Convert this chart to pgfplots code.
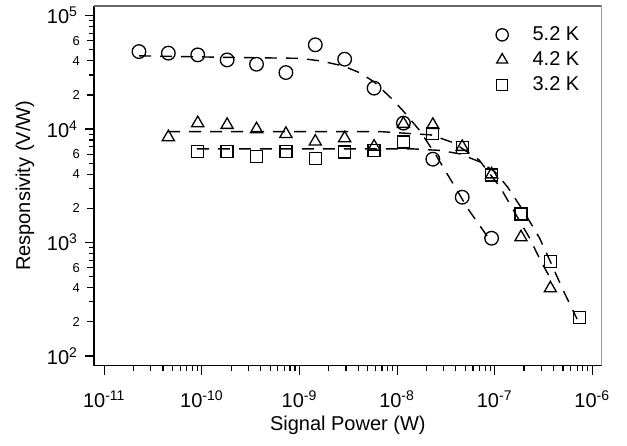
\documentclass[border=0pt]{standalone}
\usepackage{fontspec}
\setmainfont{Liberation Sans}
\usepackage{pgfplots}
\pgfplotsset{compat=1.18}

\begin{document}
\begin{tikzpicture}
\useasboundingbox (0,0) rectangle (313.5pt,222.5pt);
\begin{axis}[
  at={(47pt,39.65pt)}, anchor=south west,
  scale only axis, width=253.85pt, height=179.85pt,
  xmode=log, ymode=log,
  xmin=7.85e-12, xmax=1.247e-6,
  ymin=82.2, ymax=121600,
  axis x line*=bottom, axis y line*=left,
  axis line style={line width=0.7pt},
  tick align=outside,
  major tick length=4.5pt, minor tick length=2.6pt,
  tick style={black, line width=0.6pt},
  font=\fontsize{10}{12}\selectfont,
  xtick={1e-11,1e-10,1e-9,1e-8,1e-7,1e-6},
  xticklabels={10\textsuperscript{-11},10\textsuperscript{-10},10\textsuperscript{-9},10\textsuperscript{-8},10\textsuperscript{-7},10\textsuperscript{-6}},
  xticklabel style={yshift=-4.5pt},
  minor xtick={2e-11,3e-11,4e-11,5e-11,6e-11,7e-11,8e-11,9e-11,
    2e-10,3e-10,4e-10,5e-10,6e-10,7e-10,8e-10,9e-10,
    2e-9,3e-9,4e-9,5e-9,6e-9,7e-9,8e-9,9e-9,
    2e-8,3e-8,4e-8,5e-8,6e-8,7e-8,8e-8,9e-8,
    2e-7,3e-7,4e-7,5e-7,6e-7,7e-7,8e-7,9e-7},
  ytick={1e2,1e3,1e4,1e5},
  yticklabels={10\textsuperscript{2},10\textsuperscript{3},10\textsuperscript{4},10\textsuperscript{5}},
  minor ytick={300,500,700,800,900,3000,5000,7000,8000,9000,30000,50000,70000,80000,90000},
  extra y ticks={200,400,600,2000,4000,6000,20000,40000,60000},
  extra y tick labels={2,4,6,2,4,6,2,4,6},
  extra y tick style={major tick length=3.6pt, tick label style={font=\fontsize{6.5}{7}\selectfont}},
  xlabel={Signal Power (W)},
  ylabel={Responsivity (V/W)},
  xlabel style={at={(axis description cs:0.5,-0.1788)}, anchor=base},
  ylabel style={at={(axis description cs:-0.1359,0.5)}, anchor=center},
  legend style={draw=none, fill=none, at={(axis description cs:1,1)}, anchor=north east,
    xshift=-6pt, yshift=-6pt, font=\fontsize{10}{11}\selectfont, row sep=0pt},
  legend cell align=left,
  legend image code/.code={
    \path (-4pt,0pt) (13pt,0pt);
    \draw[#1, every mark/.append style={scale=0.9}] plot coordinates {(0pt,0pt)};
  },
  mark options={solid, line width=0.65pt},
]

% fitted curves
\addplot[forget plot, black, line width=0.7pt, dash pattern=on 6pt off 4.5pt] coordinates {
  (2.27e-11,44220) (1.766e-10,42890) (1.012e-9,42030) (1.622e-9,39950)
  (2.791e-9,36080) (4.168e-9,31310) (5.80e-9,26080) (9.08e-9,18090)
  (1.177e-8,14180) (1.717e-8,9640) (2.563e-8,5688) (3.652e-8,3422)
  (5.33e-8,1978) (8.34e-8,1144)
};
\addplot[forget plot, black, line width=0.7pt, dash pattern=on 6pt off 4.5pt] coordinates {
  (4.52e-11,9506) (6.68e-9,9506) (2.225e-8,8890) (3.828e-8,7556)
  (6.91e-8,5350) (1.133e-7,3093) (1.614e-7,1824) (2.273e-7,1098)
  (2.981e-7,681) (3.558e-7,518)
};
\addplot[forget plot, black, line width=0.7pt, dash pattern=on 6pt off 4.5pt] coordinates {
  (8.91e-11,6690) (1.456e-8,6690) (2.752e-8,6490) (4.41e-8,6044)
  (7.07e-8,5138) (1.007e-7,4194) (1.352e-7,3093) (1.996e-7,1862)
  (2.877e-7,1098) (3.730e-7,675) (5.01e-7,382) (6.97e-7,212)
};

% 5.2 K
\addplot[only marks, mark=o, mark size=3.4pt, black] coordinates {
  (2.268e-11,48200) (4.536e-11,46700) (9.07e-11,45100) (1.815e-10,40700)
  (3.63e-10,37300) (7.26e-10,31500) (1.452e-9,55300) (2.903e-9,41300)
  (5.81e-9,22960) (1.161e-8,11280) (2.323e-8,5430) (4.645e-8,2510)
  (9.29e-8,1092)
};
\addlegendentry{5.2 K}

% 4.2 K
\addplot[only marks, mark=triangle, mark size=3.5pt, black] coordinates {
  (4.536e-11,8490) (9.07e-11,11280) (1.815e-10,10890) (3.63e-10,9980)
  (7.26e-10,9070) (1.452e-9,7760) (2.903e-9,8310) (5.81e-9,7010)
  (1.161e-8,11120) (2.323e-8,10890) (4.645e-8,6970) (9.29e-8,3990)
  (1.858e-7,1113) (3.716e-7,395)
};
\addlegendentry{4.2 K}

% 3.2 K
\addplot[only marks, mark=square, mark size=3pt, black] coordinates {
  (9.07e-11,6330) (1.815e-10,6330) (3.63e-10,5720) (7.26e-10,6330)
  (1.452e-9,5540) (2.903e-9,6270) (5.81e-9,6460) (1.161e-8,7710)
  (2.323e-8,9200) (4.645e-8,6920) (9.29e-8,3945) (1.858e-7,1787)
  (3.716e-7,679) (7.43e-7,219)
};
\addlegendentry{3.2 K}

% top and right frame lines
\draw[black!60, line width=0.6pt] (rel axis cs:0,1) -- (rel axis cs:1,1) -- (rel axis cs:1,0);
\end{axis}
\end{tikzpicture}
\end{document}
